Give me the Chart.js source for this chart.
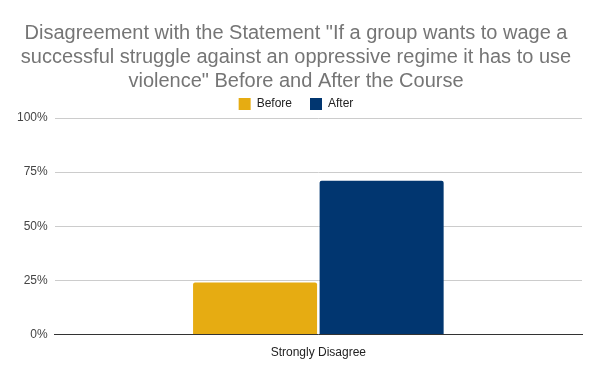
<!DOCTYPE html>
<html>
<head>
<meta charset="utf-8">
<script src="https://cdn.jsdelivr.net/npm/chart.js@4"></script>
<style>
  html, body { margin: 0; padding: 0; background: #fff; }
  #wrap { width: 600px; height: 371px; }
</style>
</head>
<body>
<div id="wrap"><canvas id="chart"></canvas></div>
<script>
// data
var categories = ['Strongly Disagree'];
var beforeValues = [0.24];
var afterValues = [0.71];
var seriesNames = ['Before', 'After'];
var titleLines = [
  'Disagreement with the Statement "If a group wants to wage a',
  'successful struggle against an oppressive regime it has to use',
  'violence" Before and After the Course'
];

Chart.defaults.font.family = '"Liberation Sans", Arial, sans-serif';

// wider gap between legend items without making the legend taller
var legendTrim = {
  id: 'legendTrim',
  beforeInit: function(chart) {
    var fit = chart.legend.fit;
    chart.legend.fit = function() {
      fit.call(this);
      this.height -= 2;
    };
  }
};

var ctx = document.getElementById('chart').getContext('2d');
var myChart = new Chart(ctx, {
  type: 'bar',
  data: {
    labels: categories,
    datasets: [{
      label: seriesNames[0],
      data: beforeValues,
      backgroundColor: '#e6ac12',
      borderRadius: 2,
      borderSkipped: 'bottom'
    }, {
      label: seriesNames[1],
      data: afterValues,
      backgroundColor: '#013670',
      borderRadius: 2,
      borderSkipped: 'bottom'
    }]
  },
  options: {
    responsive: true,
    maintainAspectRatio: false,
    animation: false,
    layout: { padding: { left: 10, right: 18, top: 0, bottom: 0 } },
    datasets: {
      bar: { categoryPercentage: 0.48, barPercentage: 0.98 }
    },
    plugins: {
      title: {
        display: true,
        text: titleLines,
        color: '#757575',
        font: { size: 20, weight: 'normal' },
        lineHeight: 1.25,
        padding: { top: 21, bottom: -13 }
      },
      legend: {
        display: true,
        position: 'top',
        labels: {
          boxWidth: 12,
          boxHeight: 12,
          color: '#222',
          font: { size: 12 },
          padding: 18
        }
      },
      tooltip: { enabled: false }
    },
    scales: {
      x: {
        grid: { display: false, drawTicks: false },
        border: { color: '#333', width: 1 },
        ticks: { color: '#222', font: { size: 12 }, padding: 11 }
      },
      y: {
        min: 0,
        max: 1,
        grid: { color: '#ccc', drawTicks: false },
        border: { display: false },
        ticks: {
          stepSize: 0.25,
          color: '#444',
          font: { size: 12 },
          padding: 7,
          callback: function(v) { return Math.round(v * 100) + '%'; }
        }
      }
    }
  },
  plugins: [legendTrim]
});
</script>
</body>
</html>
